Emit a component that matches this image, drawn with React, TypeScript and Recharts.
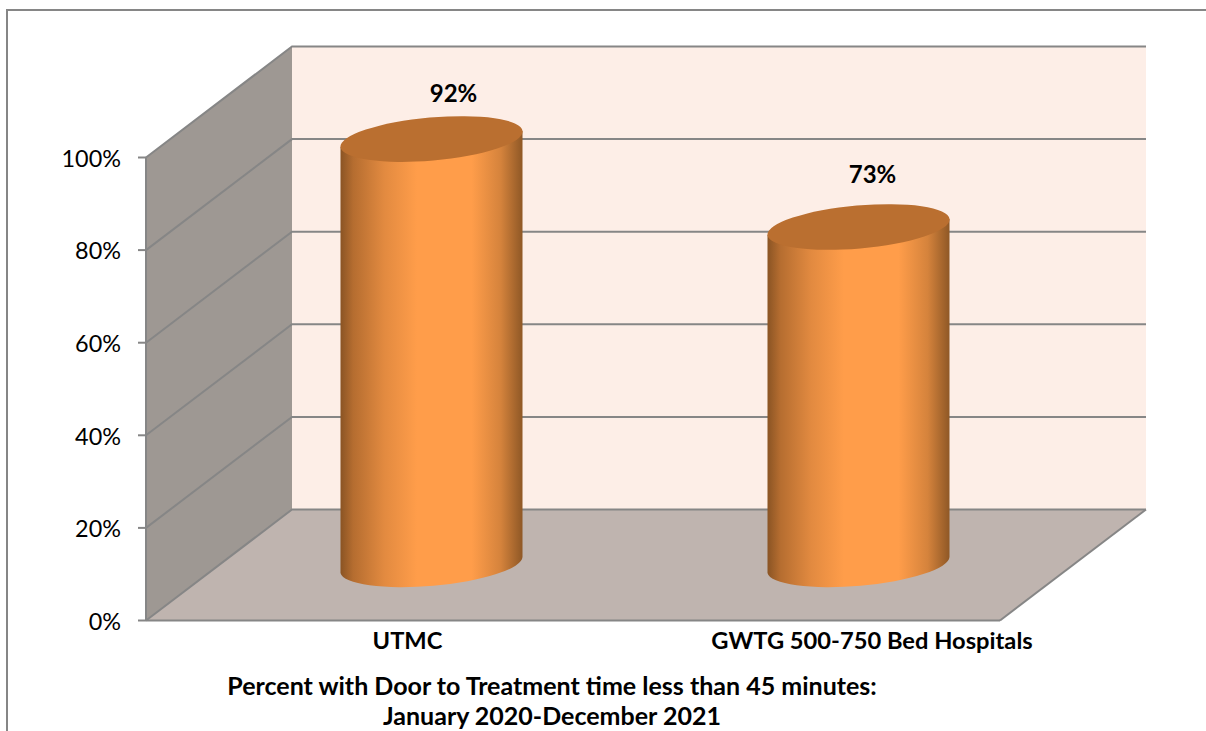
import React from "react";
import { BarChart, Bar, XAxis, YAxis, ReferenceArea, LabelList } from "recharts";

const categories = ["UTMC", "GWTG 500-750 Bed Hospitals"];
const values = [92, 73];
const yTicks = [0, 20, 40, 60, 80, 100];
const titleLines = [
  "Percent with Door to Treatment time less than 45 minutes:",
  "January 2020-December 2021",
];
const data = categories.map((name, i) => ({ name, value: values[i] }));

const FONT = "Lato, Carlito, sans-serif";
const DX = 146;
const DY = 111;
const GRID = "#868686";
const xLabelShift = [48, 85.5];
const valueLabelShift = [
  { dx: 22, dy: -43 },
  { dx: 14, dy: -50.5 },
];

function Walls(props: any) {
  const { x, y, width, height } = props;
  const bottom = y + height;
  const right = x + width;
  const tickY = (t: number) => bottom - (height * t) / 100;
  return (
    <g>
      <polygon points={`${x + DX},${y - DY} ${right + DX},${y - DY} ${right + DX},${bottom - DY} ${x + DX},${bottom - DY}`} fill="#FDEEE7" />
      <polygon points={`${x},${y} ${x + DX},${y - DY} ${x + DX},${bottom - DY} ${x},${bottom}`} fill="#9E9893" />
      <polygon points={`${x},${bottom} ${x + DX},${bottom - DY} ${right + DX},${bottom - DY} ${right},${bottom}`} fill="#BFB4AF" />
      {yTicks.map((t) => (
        <polyline
          key={t}
          points={`${x},${tickY(t)} ${x + DX},${tickY(t) - DY} ${right + DX},${tickY(t) - DY}`}
          fill="none"
          stroke={GRID}
          strokeWidth={2}
        />
      ))}
      <line x1={right} y1={bottom} x2={right + DX} y2={bottom - DY} stroke={GRID} strokeWidth={2} />
    </g>
  );
}

function Cylinder(props: any) {
  const { x, y, width, height, index } = props;
  const cx = x + width / 2 + DX / 2 - 1.5;
  const top = y - DY / 2;
  const base = y + height - DY / 2;
  const rx = 91.4;
  const ry = 21.5;
  const rot = -5;
  const tx = width / 2;
  const ty = 8;
  const id = `cyl-${index}`;
  return (
    <g>
      <defs>
        <linearGradient id={id} x1="0" x2="1" y1="0" y2="0">
          <stop offset="0" stopColor="#8A5424" />
          <stop offset="0.07" stopColor="#B56D30" />
          <stop offset="0.24" stopColor="#E28A40" />
          <stop offset="0.42" stopColor="#FF9D4A" />
          <stop offset="0.72" stopColor="#FF9D4A" />
          <stop offset="0.88" stopColor="#D5833C" />
          <stop offset="1" stopColor="#8F5826" />
        </linearGradient>
      </defs>
      <path
        d={`M${cx - tx},${top + ty} L${cx - tx},${base + ty} A${rx},${ry} ${rot} 0 0 ${cx + tx},${base - ty} L${cx + tx},${top - ty} Z`}
        fill={`url(#${id})`}
      />
      <ellipse cx={cx} cy={top} rx={rx} ry={ry} transform={`rotate(${rot} ${cx} ${top})`} fill="#BA6F30" />
    </g>
  );
}

function ValueLabel(props: any) {
  const { x, y, width, value, index } = props;
  const s = valueLabelShift[index];
  return (
    <text
      x={x + width / 2 + DX / 2 + s.dx - 1.5}
      y={y - DY / 2 + s.dy}
      textAnchor="middle"
      dominantBaseline="middle"
      fontFamily={FONT}
      fontWeight={700}
      fontSize={24}
      fill="#000"
    >
      {`${value}%`}
    </text>
  );
}

function XTick(props: any) {
  const { x, y, payload, index } = props;
  return (
    <text
      x={x + xLabelShift[index]}
      y={y + 14}
      textAnchor="middle"
      dominantBaseline="middle"
      fontFamily={FONT}
      fontWeight={700}
      fontSize={23.7}
      fill="#000"
    >
      {payload.value}
    </text>
  );
}

export default function App() {
  return (
    <div style={{ position: "absolute", left: 0, top: 0, width: 1206, height: 731, overflow: "hidden", background: "#fff" }}>
      <div style={{ position: "absolute", left: 6, top: 9, width: 1200, height: 722, borderLeft: "2px solid #868686", borderTop: "2px solid #868686" }} />
      <div style={{ position: "absolute", left: 0, top: 0 }}>
        <BarChart
          width={1206}
          height={731}
          data={data}
          margin={{ top: 157.5, left: 66, right: 206, bottom: 70.5 }}
          barCategoryGap="0%"
          style={{ background: "transparent" }}
        >
          <XAxis
            dataKey="name"
            height={40}
            interval={0}
            tick={<XTick />}
            tickLine={false}
            axisLine={{ stroke: GRID, strokeWidth: 2 }}
          />
          <YAxis
            width={80}
            domain={[0, 100]}
            ticks={yTicks}
            tickFormatter={(v: number) => `${v}%`}
            tickSize={8}
            tickMargin={17}
            tick={{ fontFamily: FONT, fontSize: 23.4, fill: "#000", dy: 1 }}
            tickLine={{ stroke: GRID, strokeWidth: 2 }}
            axisLine={{ stroke: GRID, strokeWidth: 2 }}
            interval={0}
          />
          <ReferenceArea y1={0} y2={100} shape={<Walls />} />
          <Bar dataKey="value" barSize={182} shape={<Cylinder />} isAnimationActive={false}>
            <LabelList dataKey="value" content={<ValueLabel />} />
          </Bar>
        </BarChart>
      </div>
      <div
        style={{
          position: "absolute",
          left: 152,
          width: 800,
          top: 670,
          textAlign: "center",
          fontFamily: FONT,
          fontWeight: 700,
          fontSize: 25,
          lineHeight: "30px",
          color: "#000",
        }}
      >
        {titleLines.map((l) => (
          <div key={l} style={{ whiteSpace: "nowrap" }}>{l}</div>
        ))}
      </div>
    </div>
  );
}
